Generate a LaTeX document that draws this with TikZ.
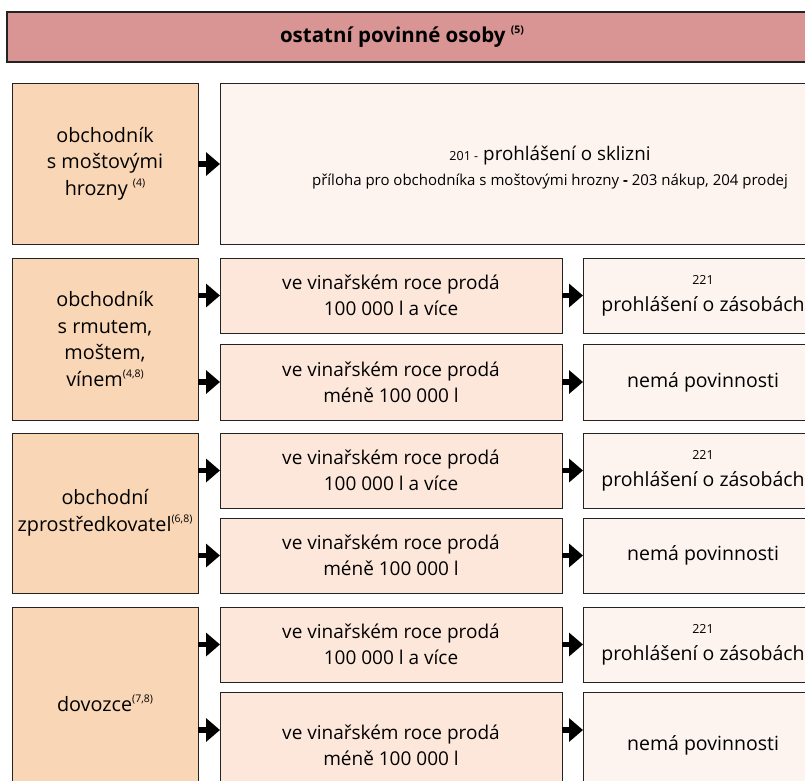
\documentclass[tikz,border=0pt]{standalone}
\usepackage{fontspec}
\setmainfont{Open Sans}
\usetikzlibrary{arrows.meta}
\definecolor{titlefill}{RGB}{217,149,148}
\definecolor{leftfill}{RGB}{249,214,181}
\definecolor{midfill}{RGB}{253,231,218}
\definecolor{rightfill}{RGB}{253,244,239}
\definecolor{edgecol}{RGB}{35,35,35}
\newcommand\supx[1]{\raisebox{0.45em}{\fontsize{10.5}{11}\selectfont #1}}
\newcommand\smalltxt{\fontsize{12.5}{15}\selectfont}
\begin{document}
\begin{tikzpicture}[x=1pt,y=-1pt,
  base/.style={draw=edgecol,line width=1pt,anchor=north west,inner sep=0pt,outer sep=0pt,
    align=center,text=black,font=\fontsize{19}{26}\selectfont},
  titlebox/.style={base,fill=titlefill,line width=1.2pt},
  leftbox/.style={base,fill=leftfill,minimum width=186pt,font=\fontsize{19.8}{26.5}\selectfont},
  midbox/.style={base,fill=midfill,minimum width=342pt},
  rightbox/.style={base,fill=rightfill,minimum width=240pt,font=\fontsize{19.5}{27}\selectfont},
  arr/.style={line width=5.5pt,-{Triangle[length=14pt,width=23pt]}},
]
\useasboundingbox (0,0) rectangle (805,780);
\clip (0,0) rectangle (805,780);

% title
\node[titlebox,minimum width=830pt,minimum height=50pt] (T) at (7,12) {};
\node[font=\fontsize{20.5}{24}\bfseries\selectfont,inner sep=0pt] (Tt) at (402,37) {ostatní povinné osoby \supx{\bfseries(5)}};

% row 1
\node[leftbox,minimum height=161pt] (L1) at (12,83) {obchodník\\s moštovými\\hrozny \supx{(4)}};
\node[rightbox,minimum width=660pt,minimum height=161pt] (R1) at (220,83)
  {\rule{0pt}{23pt}{\smalltxt 201 -} {\fontsize{18.8}{22}\selectfont prohlášení o sklizni}\\[-2pt]{\fontsize{15}{17}\selectfont příloha pro obchodníka s moštovými hrozny \textbf{-} 203 nákup, 204 prodej}};

% row 2
\node[leftbox,minimum height=162pt] (L2) at (12,258) {obchodník\\s rmutem,\\moštem,\\vínem\supx{(4,8)}};
\node[midbox,minimum height=75pt] (M2a) at (220,258) {ve vinařském roce prodá\\100 000 l a více};
\node[midbox,minimum height=76pt] (M2b) at (220,344) {ve vinařském roce prodá\\méně 100 000 l};
\node[rightbox,minimum height=75pt] (R2a) at (583,258) {{\smalltxt 221}\\prohlášení o zásobách};
\node[rightbox,minimum height=76pt] (R2b) at (583,344) {nemá povinnosti};

% row 3
\node[leftbox,minimum height=160pt] (L3) at (12,433) {obchodní\\zprostředkovatel\supx{(6,8)}};
\node[midbox,minimum height=75pt] (M3a) at (220,433) {ve vinařském roce prodá\\100 000 l a více};
\node[midbox,minimum height=75pt] (M3b) at (220,518) {ve vinařském roce prodá\\méně 100 000 l};
\node[rightbox,minimum height=75pt] (R3a) at (583,433) {{\smalltxt 221}\\prohlášení o zásobách};
\node[rightbox,minimum height=75pt] (R3b) at (583,518) {nemá povinnosti};

% row 4
\node[leftbox,minimum height=192pt] (L4) at (12,607) {dovozce\supx{(7,8)}};
\node[midbox,minimum height=75pt] (M4a) at (220,607) {ve vinařském roce prodá\\100 000 l a více};
\node[midbox,minimum height=106pt] (M4b) at (220,692) {ve vinařském roce prodá\\méně 100 000 l};
\node[rightbox,minimum height=75pt] (R4a) at (583,607) {{\smalltxt 221}\\prohlášení o zásobách};
\node[rightbox,minimum height=106pt] (R4b) at (583,692) {nemá povinnosti};

% arrows
\coordinate (y1) at (0,164);
\draw[arr] (L1.east |- y1) -- (R1.west |- y1);
\draw[arr] (L2.east |- M2a.west) -- (M2a.west);
\draw[arr] (L2.east |- M2b.west) -- (M2b.west);
\draw[arr] (M2a.east) -- (R2a.west);
\draw[arr] (M2b.east) -- (R2b.west);
\draw[arr] (L3.east |- M3a.west) -- (M3a.west);
\draw[arr] (L3.east |- M3b.west) -- (M3b.west);
\draw[arr] (M3a.east) -- (R3a.west);
\draw[arr] (M3b.east) -- (R3b.west);
\coordinate (y4) at (0,730);
\draw[arr] (L4.east |- M4a.west) -- (M4a.west);
\draw[arr] (L4.east |- y4) -- (M4b.west |- y4);
\draw[arr] (M4a.east) -- (R4a.west);
\draw[arr] (M4b.east |- y4) -- (R4b.west |- y4);
\end{tikzpicture}
\end{document}
